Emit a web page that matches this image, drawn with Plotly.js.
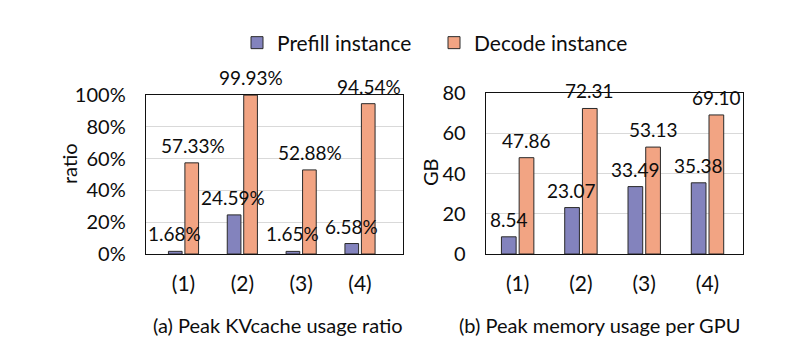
<!DOCTYPE html>
<html>
<head>
<meta charset="utf-8">
<script src="https://cdn.plot.ly/plotly-3.0.1.min.js"></script>
<style>html,body{margin:0;padding:0;background:#fff;}#chart{width:799px;height:359px;}</style>
</head>
<body>
<div id="chart"></div>
<script>
var categories = ["(1)", "(2)", "(3)", "(4)"];
var seriesNames = ["Prefill instance", "Decode instance"];
var ratioPrefill = [1.68, 24.59, 1.65, 6.58];
var ratioDecode = [57.33, 99.93, 52.88, 94.54];
var memPrefill = [8.54, 23.07, 33.49, 35.38];
var memDecode = [47.86, 72.31, 53.13, 69.10];
var ratioTicks = [0, 20, 40, 60, 80, 100];
var memTicks = [0, 20, 40, 60, 80];
var subtitles = ["(a) Peak KVcache usage ratio", "(b) Peak memory usage per GPU"];
var yTitles = ["ratio", "GB"];

var W = 799, H = 359;
var FONT = "Lato, 'Noto Sans', sans-serif";
var TXT = "#0d0d0d";
var C_PRE = "#8383BD";
var C_DEC = "#F2A483";
var EDGE = "#2a2a2a";

function px(x) { return x / W; }
function py(y) { return 1 - y / H; }

function bar(name, x, y, color, xa, ya, showLegend) {
  return {
    type: "bar", name: name, x: x, y: y,
    xaxis: xa, yaxis: ya, showlegend: showLegend, legendgroup: name,
    marker: {color: color, line: {color: EDGE, width: 1}},
    hoverinfo: "skip"
  };
}

var data = [
  bar(seriesNames[0], categories, ratioPrefill, C_PRE, "x", "y", true),
  bar(seriesNames[1], categories, ratioDecode, C_DEC, "x", "y", true),
  bar(seriesNames[0], categories, memPrefill, C_PRE, "x2", "y2", false),
  bar(seriesNames[1], categories, memDecode, C_DEC, "x2", "y2", false)
];

var annotations = [];
function labels(vals, xref, yref, shift, fmt) {
  vals.forEach(function (v, i) {
    annotations.push({
      x: categories[i], y: v, xref: xref, yref: yref,
      xshift: shift, yshift: 17.5, yanchor: "middle", xanchor: "center",
      text: fmt(v), showarrow: false,
      font: {family: FONT, size: 19, color: TXT}
    });
  });
}
labels(ratioPrefill, "x", "y", -9, function (v) { return v.toFixed(2) + "%"; });
labels(ratioDecode, "x", "y", 9, function (v) { return v.toFixed(2) + "%"; });
labels(memPrefill, "x2", "y2", -9, function (v) { return v.toFixed(2); });
labels(memDecode, "x2", "y2", 9, function (v) { return v.toFixed(2); });

annotations.push({xref: "paper", yref: "paper", x: px(278), y: py(325), xanchor: "center", yanchor: "middle",
  text: subtitles[0], showarrow: false, font: {family: FONT, size: 20, color: TXT}});
annotations.push({xref: "paper", yref: "paper", x: px(599), y: py(325), xanchor: "center", yanchor: "middle",
  text: subtitles[1], showarrow: false, font: {family: FONT, size: 20, color: TXT}});
annotations.push({xref: "paper", yref: "paper", x: px(69), y: py(164), xanchor: "center", yanchor: "middle",
  text: yTitles[0], textangle: -90, showarrow: false, font: {family: FONT, size: 20, color: TXT}});
annotations.push({xref: "paper", yref: "paper", x: px(430), y: py(172), xanchor: "center", yanchor: "middle",
  text: yTitles[1], textangle: -90, showarrow: false, font: {family: FONT, size: 20, color: TXT}});

function xAxis(domain, anchor) {
  return {
    domain: domain, anchor: anchor, type: "category",
    showline: true, mirror: true, linecolor: "#111", linewidth: 1.3,
    ticks: "outside", ticklen: 10, tickcolor: "rgba(0,0,0,0)",
    tickfont: {family: FONT, size: 21, color: TXT},
    showgrid: false, zeroline: false, fixedrange: true
  };
}
function yAxis(domain, anchor, range, ticks, suffix) {
  return {
    domain: domain, anchor: anchor, range: range,
    tickmode: "array", tickvals: ticks, ticktext: ticks.map(function (t) { return t + suffix; }),
    showline: true, mirror: true, linecolor: "#111", linewidth: 1.3,
    ticks: "outside", ticklen: 15, tickcolor: "rgba(0,0,0,0)",
    tickfont: {family: FONT, size: 20, color: TXT},
    showgrid: true, gridcolor: "#D9D9D9", gridwidth: 1,
    zeroline: false, fixedrange: true
  };
}

var layout = {
  width: W, height: H,
  margin: {l: 0, r: 0, t: 0, b: 0},
  paper_bgcolor: "#fff", plot_bgcolor: "#fff",
  barmode: "group", bargap: 0.44, bargroupgap: 0.17,
  font: {family: FONT, color: TXT},
  xaxis: xAxis([px(146), px(403)], "y"),
  yaxis: yAxis([py(254), py(95)], "x", [0, 100], ratioTicks, "%"),
  xaxis2: xAxis([px(486), px(743)], "y2"),
  yaxis2: yAxis([py(254), py(93)], "x2", [0, 80], memTicks, ""),
  showlegend: true,
  legend: {
    orientation: "h", x: px(237), y: py(43), xanchor: "left", yanchor: "middle",
    font: {family: FONT, size: 21, color: TXT},
    entrywidth: 152, entrywidthmode: "pixels",
    bgcolor: "rgba(0,0,0,0)", traceorder: "normal"
  },
  annotations: annotations
};

Plotly.newPlot("chart", data, layout, {displayModeBar: false, staticPlot: true});
</script>
</body>
</html>
